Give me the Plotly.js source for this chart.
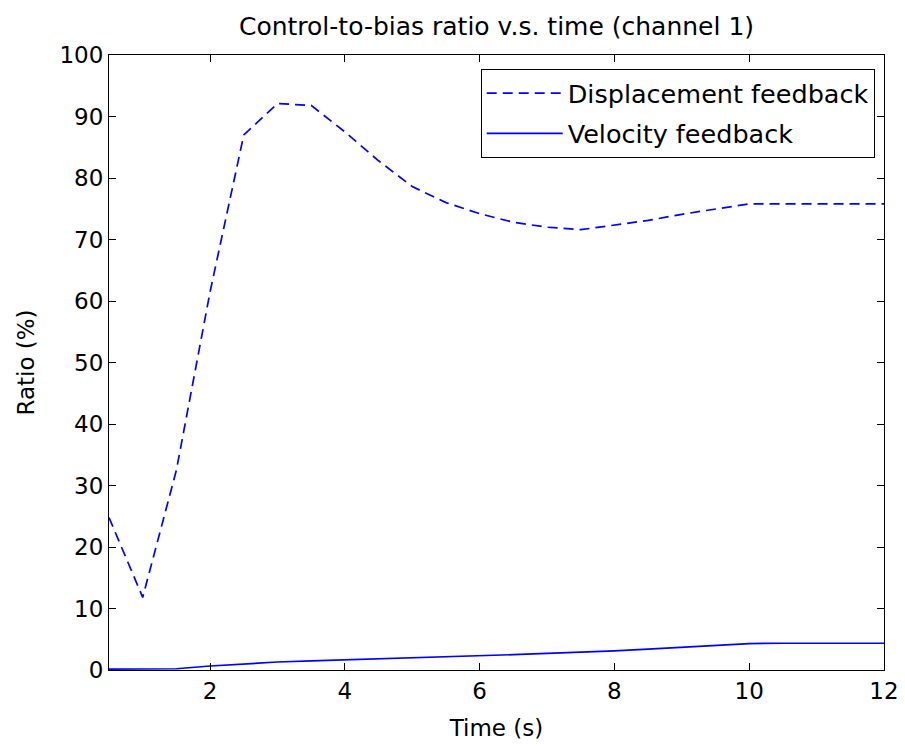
<!DOCTYPE html>
<html>
<head>
<meta charset="utf-8">
<script src="https://cdn.plot.ly/plotly-3.0.1.min.js"></script>
<style>
  html, body { margin: 0; padding: 0; background: #fff; }
  #chart { width: 905px; height: 747px; }
</style>
</head>
<body>
<div id="chart"></div>
<script>
// Sample times (s)
const time = [0.5, 1.0, 1.5, 2.0, 2.5, 3.0, 3.5, 4.0, 4.5, 5.0, 5.5, 6.0,
              6.5, 7.0, 7.5, 8.0, 8.5, 9.0, 9.5, 10.0, 10.5, 11.0, 11.5, 12.0];

// Control-to-bias ratio (%) with displacement feedback
const displacementRatio = [24.8, 11.8, 32.5, 61.5, 87.0, 92.1, 91.8, 87.5, 82.8, 78.6, 76.0, 74.2,
                           72.8, 72.0, 71.6, 72.3, 73.1, 74.1, 74.9, 75.8, 75.8, 75.8, 75.8, 75.8];

// Control-to-bias ratio (%) with velocity feedback
const velocityRatio = [0.15, 0.15, 0.2, 0.65, 1.0, 1.3, 1.5, 1.65, 1.9, 2.05, 2.2, 2.35,
                       2.5, 2.7, 2.85, 3.1, 3.4, 3.7, 4.0, 4.3, 4.35, 4.35, 4.35, 4.35];

const seriesNames = ['Displacement feedback', 'Velocity feedback'];
const xTicks = [2, 4, 6, 8, 10, 12];
const yTicks = [0, 10, 20, 30, 40, 50, 60, 70, 80, 90, 100];

const fontFamily = '"DejaVu Sans", Verdana, sans-serif';

const traces = [
  {
    x: time, y: displacementRatio, name: seriesNames[0], legendgroup: 'a',
    type: 'scatter', mode: 'lines',
    line: { color: '#0000ff', width: 1.7, dash: '10px,6px' }
  },
  {
    x: time, y: velocityRatio, name: seriesNames[1], legendgroup: 'b',
    type: 'scatter', mode: 'lines',
    line: { color: '#0000ff', width: 1.7 }
  }
];

const axisCommon = {
  showgrid: false, zeroline: false,
  showline: true, linecolor: '#000', linewidth: 1,
  mirror: 'ticks', ticks: 'inside', ticklen: 7, tickwidth: 1, tickcolor: '#000',
  tickfont: { family: fontFamily, size: 23, color: '#000' }
};

const layout = {
  width: 905, height: 747,
  paper_bgcolor: '#fff', plot_bgcolor: '#fff',
  margin: { l: 109, r: 21, t: 55, b: 77 },
  font: { family: fontFamily, color: '#000' },
  title: {
    text: 'Control-to-bias ratio v.s. time (channel 1)',
    font: { family: fontFamily, size: 25, color: '#000' },
    x: 0.5, xref: 'paper', y: 0.965, yanchor: 'middle'
  },
  xaxis: Object.assign({}, axisCommon, {
    range: [0.5, 12], tickvals: xTicks, ticktext: xTicks.map(String),
    title: { text: 'Time (s)', font: { family: fontFamily, size: 23, color: '#000' }, standoff: 17 }
  }),
  yaxis: Object.assign({}, axisCommon, {
    range: [0, 100], tickvals: yTicks, ticktext: yTicks.map(String),
    title: { text: 'Ratio (%)', font: { family: fontFamily, size: 23, color: '#000' }, standoff: 18 }
  }),
  showlegend: true,
  legend: {
    x: 0.988, xanchor: 'right', y: 0.977, yanchor: 'top',
    bgcolor: '#fff', bordercolor: '#000', borderwidth: 1,
    font: { family: fontFamily, size: 25.5, color: '#000' },
    itemwidth: 76, traceorder: 'grouped', tracegroupgap: 4
  }
};

Plotly.newPlot('chart', traces, layout, { staticPlot: true, displayModeBar: false });
</script>
</body>
</html>
